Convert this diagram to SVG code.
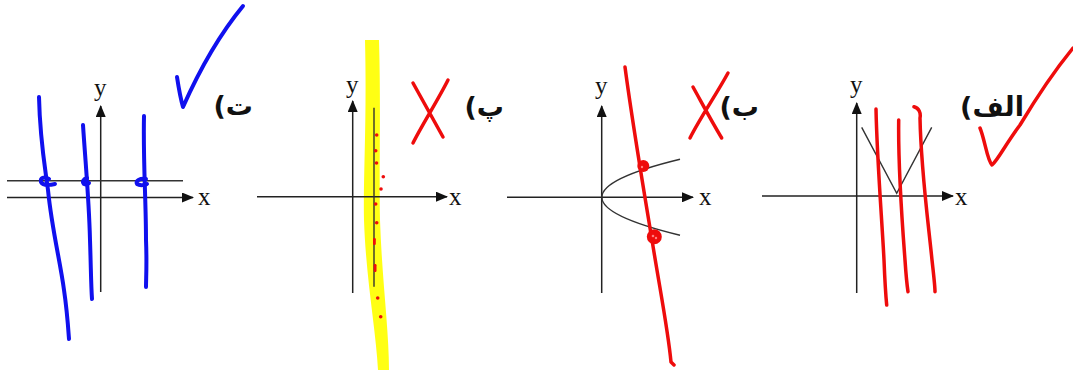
<svg xmlns="http://www.w3.org/2000/svg" width="1073" height="376" viewBox="0 0 1073 376">
<style>
.ax{stroke:#222;stroke-width:1.5;fill:none}
.thin{stroke:#333;stroke-width:1.4;fill:none}
.lbl{font-family:"Liberation Serif","Times New Roman",serif;font-size:25px;fill:#111}
.fa{font-family:"DejaVu Sans","Noto Sans",sans-serif;font-size:27px;font-weight:bold;fill:#111}
.blue{stroke:#1010ee;stroke-width:4;fill:none;stroke-linecap:round;stroke-linejoin:round}
.red{stroke:#ee0c0c;stroke-width:3.5;fill:none;stroke-linecap:round;stroke-linejoin:round}
</style>
<defs>
<marker id="arr" viewBox="0 0 12 10" refX="11" refY="5" markerWidth="12" markerHeight="10" markerUnits="userSpaceOnUse" orient="auto">
<path d="M0,0 L12,5 L0,10 Z" fill="#111"/>
</marker>
</defs>
<rect width="1073" height="376" fill="#fff"/>

<g id="graph-t">
<line class="ax" x1="7" y1="197.5" x2="193" y2="197.5" marker-end="url(#arr)"/>
<line class="ax" x1="100.7" y1="292" x2="100.7" y2="106" marker-end="url(#arr)"/>
<line class="thin" x1="7" y1="180.7" x2="183" y2="180.7"/>
<text class="lbl" x="94" y="96">y</text>
<text class="lbl" x="198" y="205">x</text>
<text class="fa" x="253" y="115" direction="rtl">ت)</text>
</g>

<g id="graph-p">
<path d="M365,40 C367,120 363,180 364,220 C366,280 376,330 378,370 L389,370 C389,330 382,280 380,220 C379,170 381,110 379,40 Z" fill="#ffff14"/>
<line class="ax" x1="257" y1="196.7" x2="447" y2="196.7" marker-end="url(#arr)"/>
<line class="ax" x1="352.7" y1="293" x2="352.7" y2="101" marker-end="url(#arr)"/>
<line class="thin" x1="374" y1="107.7" x2="374" y2="286.7"/>
<text class="lbl" x="346" y="93">y</text>
<text class="lbl" x="449" y="205">x</text>
<text class="fa" x="504" y="116" direction="rtl">پ)</text>
</g>

<g id="graph-b">
<line class="ax" x1="507" y1="197.3" x2="693" y2="197.3" marker-end="url(#arr)"/>
<line class="ax" x1="601.7" y1="293" x2="601.7" y2="106" marker-end="url(#arr)"/>
<path class="thin" d="M680,159.3 Q523.7,197.3 680,235.3"/>
<text class="lbl" x="595" y="94">y</text>
<text class="lbl" x="699" y="205">x</text>
<text class="fa" x="759" y="116" direction="rtl">ب)</text>
</g>

<g id="graph-alef">
<line class="ax" x1="762" y1="196" x2="953" y2="196" marker-end="url(#arr)"/>
<line class="ax" x1="856.7" y1="293" x2="856.7" y2="103" marker-end="url(#arr)"/>
<path class="thin" d="M861.7,127.3 L896.7,193.3 L931.7,127.3"/>
<text class="lbl" x="850" y="93">y</text>
<text class="lbl" x="955" y="205">x</text>
<text class="fa" x="1024" y="116" direction="rtl">الف)</text>
</g>

<g id="annotations">
<path class="blue" d="M39,97 C40,140 44,160 48,190 C52,230 60,260 64,290 C67,310 68,325 69,339"/>
<path class="blue" d="M83,125 C86,170 89,200 90,240 C91,270 91,285 92,299"/>
<path class="blue" d="M144,116 C143,160 146,200 146,240 C147,265 146,278 146,287"/>
<path class="blue" d="M49,179 C44,176 40,178 41,182 C43,186 50,185 55,184" stroke-width="3.5"/>
<path class="blue" d="M87,178 C83,179 82,182 84,184 C86,185 88,184 89,183" stroke-width="3.5"/>
<path class="blue" d="M146,179 C140,178 135,181 137,184 C140,186 145,185 147,184" stroke-width="3.5"/>
<path class="blue" d="M177,77 C179,90 181,100 183,107 C195,80 215,40 243,6"/>

<path class="red" d="M413,83 L443,137 M448,80 C438,100 422,125 413,143"/>
<g fill="#ee0c0c">
<circle cx="376.7" cy="135" r="1.8"/>
<circle cx="375.7" cy="150.7" r="1.8"/>
<circle cx="376.5" cy="163" r="1.8"/>
<circle cx="383.3" cy="176.7" r="1.8"/>
<circle cx="381" cy="189" r="1.8"/>
<circle cx="375.7" cy="204" r="1.8"/>
<circle cx="376.7" cy="222.7" r="1.8"/>
<rect x="373" y="238" width="2.8" height="7" rx="1.2"/>
<rect x="373.7" y="264" width="2.8" height="8" rx="1.2"/>
<circle cx="377.7" cy="298" r="1.8"/>
<circle cx="380.7" cy="316.7" r="1.8"/>
</g>

<path class="red" d="M625,67 C632,120 642,180 652,240 C660,290 668,330 671,362 L674,365"/>
<circle cx="643.3" cy="166" r="6" fill="#ee0c0c"/>
<circle cx="654.3" cy="236.7" r="7.5" fill="#ee0c0c"/>
<circle cx="642" cy="167" r="1.2" fill="#ff8080"/>
<circle cx="653" cy="236" r="1.3" fill="#ff8080"/>
<circle cx="656" cy="238" r="1.2" fill="#ff8080"/>
<path class="red" d="M728,73 C716,95 700,118 690,138 M693,87 C703,105 712,122 721.7,138"/>

<path class="red" d="M876,109 C877,160 882,220 884,260 C885,285 886,298 886.7,305"/>
<path class="red" d="M898.7,120 C898,170 902,220 905,260 C906,275 907,285 908,291.7"/>
<path class="red" d="M914,106.7 C919,108 921,113 920,118 C921,170 928,220 932,260 C934,278 935,286 935,291.7"/>
<path class="red" d="M980,128 C985,140 987,160 992,165 C998,160 1005,145 1020,125 C1035,100 1055,70 1073,48"/>
</g>
</svg>
